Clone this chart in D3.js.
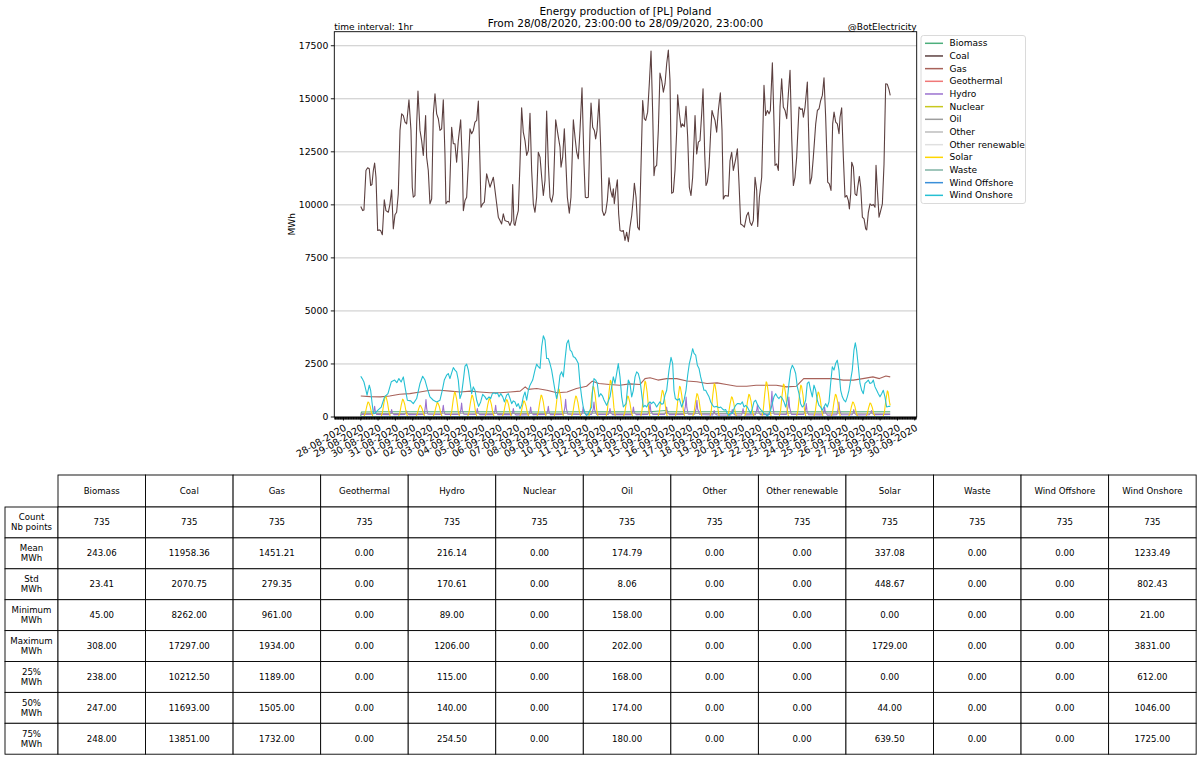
<!DOCTYPE html>
<html><head><meta charset="utf-8">
<script src="https://cdnjs.cloudflare.com/ajax/libs/d3/7.8.5/d3.min.js"></script>
<style>body{margin:0;background:#fff;} svg{display:block;font-family:"DejaVu Sans",sans-serif;}</style>
</head><body><svg id="c" width="1200" height="759"></svg>
<script>
// ---------------- DATA ----------------
const seriesNames = ["Biomass","Coal","Gas","Geothermal","Hydro","Nuclear","Oil","Other","Other renewable","Solar","Waste","Wind Offshore","Wind Onshore"];
const seriesColors = ["#4daf7c","#5c4040","#a8625a","#f07878","#9b72cf","#c8c81e","#9e9e9e","#bdbdbd","#e0e0e0","#ffd600","#80b3a5","#3a8fd9","#26c0d3"];

// [hours since 29-08-2020 00:00, MWh]
const coal = [[0,9920],[2.6,9730],[4.4,9760],[7.2,11620],[9.5,11750],[11.8,11700],[13.7,10910],[15.5,10960],[17.4,11620],[19.2,11970],[21.1,11300],[23.4,8790],[25.7,8820],[27.5,8790],[29.9,8590],[32.6,10240],[34.9,9730],[38.2,9650],[40.5,10050],[42.8,10710],[45.1,8870],[47.4,9530],[49.7,9650],[52.0,10520],[54.4,13510],[56.7,14290],[59.0,14210],[61.3,13900],[63.6,13820],[66.8,14950],[69.6,13510],[71.4,10830],[72.8,10360],[75.1,10440],[77.5,13820],[79.3,15360],[82.1,13510],[84.4,13030],[86.7,12330],[89.9,14210],[91.3,12250],[93.6,11620],[95.9,10050],[98.3,10280],[100.6,14290],[102.9,15240],[105.2,14290],[107.5,14060],[109.8,13510],[112.1,13580],[114.4,14950],[116.7,12400],[118.1,10050],[120.4,10170],[122.7,10130],[126.0,13660],[128.3,12880],[130.6,12880],[132.9,12010],[135.2,13030],[138.5,14010],[140.8,11930],[142.2,9730],[144.5,10200],[146.8,10360],[149.1,11930],[151.4,13580],[153.7,13350],[156.0,13510],[158.3,13900],[160.7,13980],[163.0,14890],[165.3,11930],[166.7,9890],[169.0,10050],[171.3,10130],[174.5,11460],[176.8,11150],[179.1,10830],[183.8,11300],[186.1,10680],[188.4,10050],[190.7,9420],[193.0,9260],[195.3,9100],[197.6,9580],[199.9,9260],[202.2,9230],[204.5,9210],[206.9,9030],[209.2,9260],[210.6,10960],[212.4,9100],[213.8,9030],[216.1,9420],[218.4,9730],[220.7,11930],[223.0,14570],[225.3,13430],[227.7,13030],[230.0,12330],[232.3,12560],[234.6,14320],[236.9,11620],[239.2,10050],[241.5,9650],[243.8,10360],[246.1,12480],[248.5,12250],[250.8,11300],[253.1,10440],[255.4,11150],[257.7,14420],[260.0,11930],[262.3,10360],[264.6,10130],[266.9,10520],[270.2,14010],[273.9,13190],[276.2,12720],[277.6,11780],[279.9,12250],[282.2,13580],[284.0,12250],[286.4,10360],[289.1,9610],[291.4,10360],[294.7,14010],[297.0,13190],[299.3,12480],[301.6,12170],[303.9,13510],[306.7,15520],[309.5,11930],[311.3,10360],[313.2,10330],[315.5,10360],[317.8,13510],[319.2,14800],[321.5,13660],[323.8,13510],[325.6,13110],[327.5,13510],[330.3,14970],[332.6,12720],[334.9,9730],[337.2,9500],[339.5,9650],[341.8,10200],[344.1,11270],[346.4,10680],[348.7,10360],[350.1,10760],[351.5,10050],[353.8,10760],[355.7,11180],[357.5,9580],[359.4,8790],[361.7,8760],[364.0,8790],[366.3,8320],[368.6,8710],[370.9,8262],[373.2,8950],[375.6,9500],[377.9,10360],[379.3,11020],[381.6,10360],[383.9,8950],[386.2,8820],[388.0,11150],[390.8,14920],[393.1,14060],[395.0,13980],[397.7,14370],[400.0,15710],[402.4,17250],[404.7,14290],[406.5,11380],[407.9,11780],[410.2,11860],[412.5,13510],[414.8,16210],[417.2,15860],[419.5,15310],[421.8,15710],[424.1,16650],[426.4,17297],[428.7,15860],[431.0,10550],[433.3,10600],[435.6,11620],[438.0,13510],[439.3,15190],[441.6,14320],[444.0,13660],[445.8,13820],[448.6,13690],[450.9,14640],[453.2,13190],[455.5,10830],[457.8,10440],[460.1,11300],[463.4,14210],[465.7,12400],[468.0,12960],[470.3,13030],[472.6,14290],[474.5,15470],[476.8,12400],[478.6,10910],[480.5,11070],[482.8,11780],[485.1,13430],[486.9,14450],[488.8,14210],[491.1,13980],[493.4,13430],[495.7,14450],[498.5,15280],[500.8,13510],[502.6,10280],[505.0,10440],[509.6,10410],[511.9,12090],[514.2,12480],[516.5,11620],[519.8,12170],[522.1,12640],[524.4,10990],[526.7,9100],[529.5,9030],[531.8,8950],[535.0,9500],[537.3,9650],[539.6,9180],[541.9,9030],[544.2,9260],[546.6,11300],[548.9,10680],[550.3,8980],[552.6,10360],[555.8,11300],[559.0,15630],[561.3,14210],[563.7,14450],[566.0,14290],[567.8,14450],[570.6,16700],[572.9,13820],[574.3,11860],[576.6,11930],[578.9,11620],[581.2,14610],[583.5,15940],[585.8,14610],[588.2,14450],[590.5,14060],[592.8,15240],[595.1,16340],[597.4,13190],[599.7,10910],[602.0,11300],[604.3,12250],[607.6,14610],[609.9,14500],[612.2,14530],[613.6,14130],[615.9,14610],[619.1,15790],[621.4,12720],[622.8,10990],[625.1,11300],[627.4,12250],[630.7,13820],[633.0,14450],[635.3,14530],[637.6,14920],[639.9,15160],[642.2,15990],[644.5,14130],[647.3,11070],[649.6,10990],[651.9,10680],[654.2,13820],[656.1,14370],[658.4,13900],[660.7,13820],[663.0,13350],[664.4,14130],[666.7,14570],[669.0,12250],[671.3,10360],[673.7,10440],[676.0,10200],[677.4,9810],[679.2,10520],[680.6,12010],[682.9,11780],[685.2,10520],[687.5,10440],[688.9,10830],[691.2,11340],[693.1,10830],[695.4,9420],[697.7,9340],[700.0,8870],[701.4,8820],[703.7,9650],[706.0,10050],[708.3,9970],[710.6,10020],[712.9,9890],[714.3,11860],[716.2,10680],[718.5,9420],[720.8,9730],[723.1,10050],[725.4,11930],[727.7,15710],[730.0,15680],[732.4,15420],[734,15160]];

const gas = [[0,990],[13,961],[27,950],[40,990],[54,1070],[68,1100],[82,1180],[96,1260],[110,1260],[124,1220],[138,1180],[152,1220],[165,1180],[179,1140],[193,1140],[207,1180],[221,1220],[228,1420],[232,1300],[244,1340],[258,1260],[272,1140],[286,1180],[299,1340],[313,1450],[321,1690],[330,1580],[345,1530],[359,1500],[373,1560],[387,1530],[394,1810],[401,1850],[412,1740],[424,1810],[438,1810],[452,1700],[466,1660],[480,1580],[494,1610],[507,1530],[521,1450],[535,1450],[548,1500],[562,1500],[576,1500],[590,1420],[604,1450],[614,1810],[627,1810],[641,1810],[655,1810],[669,1740],[683,1740],[696,1810],[710,1890],[719,1810],[728,1934],[734,1890]];

const windOnshore = [[0,1920],[2,1810],[4.4,1650],[7.2,1260],[8.7,1030],[11.8,1500],[13.7,1260],[15.5,710],[17.4,190],[19.2,160],[23.8,320],[28.4,470],[33,950],[37.7,1100],[42.3,1660],[47,1740],[50,1620],[52.8,1810],[56,1650],[59,1890],[61.3,1420],[64.6,790],[69.2,760],[72.8,630],[77.5,870],[82.1,1580],[85.8,1920],[89,1740],[92.3,1340],[95.9,950],[100.6,790],[105.2,710],[109.8,790],[113,1260],[115.8,1740],[119,1970],[121.3,2050],[123.6,1810],[126,2080],[128.3,2330],[130.6,2210],[132.9,2130],[135.2,1740],[137.5,870],[139.8,1100],[142.2,1740],[144.5,2400],[146.8,2490],[149.1,2210],[151.4,1660],[153.7,1100],[156,1420],[158.3,1260],[160.7,790],[163.4,500],[166.2,710],[169,1070],[172.2,950],[174.5,820],[177.8,950],[180.1,870],[182.4,1100],[184.7,1140],[187,1100],[189.4,1140],[191.7,950],[194,1100],[196.8,950],[199.1,710],[202.2,1030],[204.5,1100],[206.9,870],[209.2,630],[211.5,760],[213.8,710],[216.1,500],[218.4,630],[220.7,390],[223,550],[225.3,950],[227.7,1180],[230,790],[232.3,1260],[234.6,1500],[238.3,1740],[241.5,2210],[243.8,2490],[246.1,2370],[248.5,2290],[250.8,3310],[253.1,3831],[255.4,3630],[257.7,2760],[260,2760],[262.3,2520],[264.6,2210],[266.9,1740],[269.2,1260],[271.5,870],[273.8,1260],[276.2,1970],[278.5,2130],[280.8,1890],[283.1,2680],[285.6,3470],[287.9,3630],[290.2,3150],[292.4,3080],[294.7,2840],[297,2800],[299.3,2680],[301.6,2520],[303.9,1580],[306.2,950],[308.4,470],[310.7,190],[313.2,80],[315.5,160],[317.8,320],[320.1,470],[321,1100],[323.3,1810],[325.6,1740],[327.9,1580],[330.2,950],[332.6,1100],[335,1000],[337.2,800],[340.9,550],[345.5,950],[350.1,1890],[352.4,1580],[357,2520],[359.4,1890],[361.7,950],[364,470],[367.7,630],[370.9,1740],[373.2,1580],[375.6,950],[377.9,1260],[380.2,1890],[382.5,2130],[384.8,2050],[387.1,1740],[389.4,1100],[391.7,470],[394,550],[396.3,470],[398.6,630],[400.9,710],[403.2,630],[405.5,710],[407.8,630],[410.2,470],[412.5,600],[414.8,710],[417.1,600],[419.4,630],[421.7,1030],[424.1,1260],[427.3,2210],[430.1,2810],[432.4,2520],[434.2,1260],[436.1,870],[438.9,790],[441.6,870],[444.9,470],[448.1,790],[450.9,1260],[453.2,1970],[455.5,2520],[457.8,2840],[460.1,3220],[462,3000],[464.3,2920],[466.6,2440],[468.9,2290],[471.2,1890],[473.5,1580],[475.8,1260],[478.1,1260],[480.5,1100],[482.8,950],[485.1,710],[487.8,550],[490.1,470],[493.4,500],[496.6,440],[498.9,470],[501.2,390],[503.5,320],[505.8,350],[508.2,160],[510.5,80],[512.8,190],[515.1,160],[517.4,390],[519.7,550],[522,630],[524.3,630],[526.6,600],[529,710],[531.3,470],[533.6,550],[535.9,470],[538.2,320],[540.5,160],[542.8,390],[545.1,710],[547.4,790],[549.7,600],[552,470],[554.4,350],[556.7,280],[559,160],[561.3,130],[563.6,21],[565.9,160],[568.2,320],[570.5,630],[572.8,950],[575.2,1100],[577.5,950],[579.8,870],[582.1,980],[584.4,870],[586.7,710],[589,470],[591.3,790],[593.6,1580],[595.9,2210],[598.3,2440],[600.6,2290],[602.9,2050],[605.2,1420],[607.5,1100],[609.8,630],[612.1,470],[614.4,550],[616.7,790],[619,1580],[621.3,1660],[623.7,1260],[626,950],[628.3,1500],[630.6,1260],[632.9,790],[635.2,550],[637.5,470],[639.8,320],[642.1,470],[644.5,630],[646.8,470],[649.1,710],[651.4,1580],[653.7,2370],[656,2210],[658.3,2520],[660.6,2680],[662.9,2210],[665.3,1260],[667.6,950],[669.9,790],[672.2,710],[674.5,950],[676.8,1260],[679.1,1740],[681.4,2210],[683.7,3150],[685.6,3500],[687.4,3150],[689.8,2370],[692.1,1580],[694.4,1260],[696.7,1100],[699,1580],[701.3,1660],[703.6,1740],[705.9,1580],[708.3,1610],[710.6,1740],[712.9,1420],[715.2,1260],[717.5,1100],[719.8,950],[722.1,1100],[724.4,1260],[726.7,950],[729,470],[731.4,500],[734,500]];

const hydro = [[0,120],[17,130],[18.2,300],[19.2,505],[20.2,250],[22,120],[40,110],[41.8,200],[42.8,347],[43.8,180],[46,110],[61,120],[62.6,170],[63.6,284],[64.6,160],[67,110],[88,120],[89.4,450],[90.4,820],[91.4,380],[93,130],[112,120],[113.4,300],[114.4,552],[115.4,260],[117,120],[137,125],[138.8,350],[139.8,662],[140.8,300],[143,130],[159,120],[160.6,220],[161.6,394],[162.6,190],[165,110],[184,110],[186,300],[187,552],[188,250],[190,110],[209,110],[210.5,220],[211.5,394],[212.5,180],[215,100],[233,110],[234.5,250],[235.5,473],[236.5,220],[239,110],[257,115],[259,280],[260,505],[261,240],[263,110],[281,120],[283,450],[284,836],[285,400],[287,130],[306,120],[307.4,250],[308.4,473],[309.4,230],[312,110],[320,120],[322.3,380],[323.3,710],[324.3,330],[327,120],[343,115],[344.5,220],[345.5,394],[346.5,190],[349,110],[375,110],[377,260],[378,470],[379,220],[382,110],[398,120],[400,340],[401,631],[402,300],[405,120],[421,115],[423,250],[424,473],[425,230],[428,110],[448,120],[450,500],[451,946],[452,450],[454,130],[463,130],[465,420],[466,788],[467,380],[470,120],[488,100],[489,180],[490,300],[491,150],[494,95],[513,100],[514,200],[515,350],[516,170],[519,95],[528,100],[529,220],[530,400],[531,200],[534,100],[547,110],[549,330],[550,600],[551,280],[554,110],[567,120],[569,650],[570,1206],[571,560],[573,130],[590,120],[592.5,500],[593.5,946],[594.5,450],[597,120],[614,115],[616.6,340],[617.6,631],[618.6,300],[621,110],[640,100],[642,250],[643,473],[644,220],[647,89],[660,110],[661.8,380],[662.8,710],[663.8,330],[666,110],[681,105],[682.5,190],[683.5,347],[684.5,170],[687,100],[705,110],[707,200],[708,300],[709,160],[712,110],[734,120]];

const biomass = [[0,45],[1,238],[30,247],[60,248],[100,244],[150,247],[200,248],[250,238],[300,247],[350,248],[400,247],[424,308],[426,250],[450,248],[500,246],[550,247],[600,248],[650,250],[700,247],[734,248]];
const oil = [[0,170],[50,168],[100,175],[150,180],[200,172],[250,168],[300,176],[350,182],[400,178],[450,170],[500,168],[550,174],[600,180],[650,185],[700,178],[734,176]];
const zeroSeries = [[0,0],[734,0]];

// solar: value at given hours of each day (day 0 = 29-08-2020)
const solarDayHours = [4,6,8,10,11,13,15,17];
const solarDays = [
 [0,140,460,710,690,500,180,0],[0,200,640,990,960,690,250,0],[0,170,550,840,810,590,210,0],[0,110,360,550,530,390,140,0],
 [0,140,440,680,660,480,170,0],[0,240,770,1180,1140,830,300,0],[0,210,670,1030,1000,720,260,0],[0,170,570,870,840,610,220,0],
 [0,160,530,820,800,570,210,0],[0,150,490,760,740,530,190,0],[0,210,670,1030,1000,720,260,0],[0,270,870,1340,1300,940,340,0],
 [0,200,640,990,960,690,250,0],[0,290,940,1450,1410,1020,360,0],[0,350,1120,1729,1680,1210,430,0],[0,200,640,990,960,690,250,0],
 [0,340,1100,1690,1640,1180,420,0],[0,250,820,1260,1220,880,320,0],[0,290,940,1450,1410,1020,360,0],[0,220,720,1100,1070,770,280,0],
 [0,320,1030,1580,1530,1110,400,0],[0,190,620,950,920,670,240,0],[0,210,700,1070,1040,750,270,0],[0,330,1080,1660,1610,1160,420,0],
 [0,310,1010,1550,1500,1090,390,0],[0,300,980,1500,1460,1050,380,0],[0,240,770,1180,1140,830,300,0],[0,210,700,1070,1040,750,270,0],
 [0,140,460,710,690,500,180,0],[0,130,430,660,640,460,170,0],[0,250,800,1230,1190,700]
];
const solarTail = [[734,550]];

const yTickValues = [0,2500,5000,7500,10000,12500,15000,17500];

const tableRowLabels = [["Count","Nb points"],["Mean","MWh"],["Std","MWh"],["Minimum","MWh"],["Maximum","MWh"],["25%","MWh"],["50%","MWh"],["75%","MWh"]];
const tableValues = [
 ["735","735","735","735","735","735","735","735","735","735","735","735","735"],
 ["243.06","11958.36","1451.21","0.00","216.14","0.00","174.79","0.00","0.00","337.08","0.00","0.00","1233.49"],
 ["23.41","2070.75","279.35","0.00","170.61","0.00","8.06","0.00","0.00","448.67","0.00","0.00","802.43"],
 ["45.00","8262.00","961.00","0.00","89.00","0.00","158.00","0.00","0.00","0.00","0.00","0.00","21.00"],
 ["308.00","17297.00","1934.00","0.00","1206.00","0.00","202.00","0.00","0.00","1729.00","0.00","0.00","3831.00"],
 ["238.00","10212.50","1189.00","0.00","115.00","0.00","168.00","0.00","0.00","0.00","0.00","0.00","612.00"],
 ["247.00","11693.00","1505.00","0.00","140.00","0.00","174.00","0.00","0.00","44.00","0.00","0.00","1046.00"],
 ["248.00","13851.00","1732.00","0.00","254.50","0.00","180.00","0.00","0.00","639.50","0.00","0.00","1725.00"]
];

// ---------------- BUILD ----------------
const solar = [];
solarDays.forEach((vals,d)=>vals.forEach((v,i)=>solar.push([d*24+solarDayHours[i], v])));
solarTail.forEach(p=>solar.push(p));

const seriesData = [biomass, coal, gas, zeroSeries, hydro, zeroSeries, oil, zeroSeries, zeroSeries, solar, zeroSeries, zeroSeries, windOnshore];

const svg = d3.select("#c");
const P = {l:334.3, r:916.7, t:31.7, b:417};
const t0 = Date.UTC(2020,7,29,0);
const toDate = h => new Date(t0 + h*3600e3);
const allH = seriesData.flat().map(d=>d[0]);
const hMin = d3.min(allH), hMax = d3.max(allH), pad = (hMax-hMin)*0.05;
const x = d3.scaleUtc().domain([toDate(hMin-pad), toDate(hMax+pad)]).range([P.l, P.r]);
const yMax = d3.max(seriesData.flat(), d=>d[1]) * 1.05;
const y = d3.scaleLinear().domain([0, yMax]).range([P.b, P.t]);

// titles
svg.append("text").attr("x",(P.l+P.r)/2).attr("y",15).attr("text-anchor","middle").attr("font-size",10.5).text("Energy production of [PL] Poland");
svg.append("text").attr("x",(P.l+P.r)/2).attr("y",27).attr("text-anchor","middle").attr("font-size",10.5).text("From 28/08/2020, 23:00:00 to 28/09/2020, 23:00:00");
svg.append("text").attr("x",P.l).attr("y",29.5).attr("font-size",9).text("time interval: 1hr");
svg.append("text").attr("x",P.r).attr("y",29.5).attr("text-anchor","end").attr("font-size",9).text("@BotElectricity");

// grid
svg.append("g").selectAll("line").data(yTickValues).join("line")
  .attr("x1",P.l).attr("x2",P.r).attr("y1",d=>y(d)).attr("y2",d=>y(d))
  .attr("stroke","#c8c8c8").attr("stroke-width",1);

// lines
svg.append("clipPath").attr("id","clip").append("rect").attr("x",P.l).attr("y",P.t).attr("width",P.r-P.l).attr("height",P.b-P.t);
const line = d3.line().x(d=>x(toDate(d[0]))).y(d=>y(d[1]));
const gL = svg.append("g").attr("clip-path","url(#clip)");
seriesData.forEach((data,i)=>{
  gL.append("path").attr("d",line(data)).attr("fill","none").attr("stroke",seriesColors[i]).attr("stroke-width",1.1).attr("stroke-linejoin","round");
});

// spines
svg.append("rect").attr("x",P.l).attr("y",P.t).attr("width",P.r-P.l).attr("height",P.b-P.t).attr("fill","none").attr("stroke","#000").attr("stroke-width",0.9);

// y axis
const yAxis = svg.append("g");
yTickValues.forEach(v=>{
  yAxis.append("line").attr("x1",P.l-3.5).attr("x2",P.l).attr("y1",y(v)).attr("y2",y(v)).attr("stroke","#000").attr("stroke-width",0.9);
  yAxis.append("text").attr("x",P.l-6).attr("y",y(v)).attr("dy","0.35em").attr("text-anchor","end").attr("font-size",9.3).text(v);
});
svg.append("text").attr("transform",`translate(295,${(P.t+P.b)/2}) rotate(-90)`).attr("text-anchor","middle").attr("font-size",9).text("MWh");

// x axis
const days = d3.utcDay.range(x.domain()[0], x.domain()[1]);
const hours = d3.utcHour.range(x.domain()[0], x.domain()[1]);
const gx = svg.append("g");
gx.selectAll("line.mi").data(hours).join("line").attr("x1",d=>x(d)).attr("x2",d=>x(d)).attr("y1",P.b).attr("y2",P.b+2.5).attr("stroke","#000").attr("stroke-width",1);
gx.selectAll("line.ma").data(days).join("line").attr("x1",d=>x(d)).attr("x2",d=>x(d)).attr("y1",P.b).attr("y2",P.b+3.5).attr("stroke","#000").attr("stroke-width",0.9);
const fmt = d3.utcFormat("%d-%m-%Y");
gx.selectAll("text").data(days).join("text")
  .attr("transform",d=>`translate(${x(d)},${P.b+6.5}) rotate(-30)`)
  .attr("text-anchor","end").attr("dominant-baseline","hanging").attr("font-size",9.6).text(d=>fmt(d));

// legend
const lg = svg.append("g");
lg.append("rect").attr("x",921).attr("y",35.5).attr("width",104.5).attr("height",168).attr("rx",2.5)
  .attr("fill","#fff").attr("fill-opacity",0.8).attr("stroke","#d6d6d6").attr("stroke-width",0.9);
seriesNames.forEach((n,i)=>{
  const yy = 43.3 + i*12.67;
  lg.append("line").attr("x1",925).attr("x2",943).attr("y1",yy).attr("y2",yy).attr("stroke",seriesColors[i]).attr("stroke-width",1.5);
  lg.append("text").attr("x",949.5).attr("y",yy).attr("dy","0.35em").attr("font-size",9).text(n);
});

// table
const T = {x0:5, xh:58, colW:87.55, top:475, headH:32, rowH:30.9};
const tg = svg.append("g").attr("font-size",8.6);
seriesNames.forEach((n,j)=>{
  const cx = T.xh + j*T.colW;
  tg.append("rect").attr("x",cx).attr("y",T.top).attr("width",T.colW).attr("height",T.headH).attr("fill","#fff").attr("stroke","#000").attr("stroke-width",0.9);
  tg.append("text").attr("x",cx+T.colW/2).attr("y",T.top+T.headH/2).attr("dy","0.35em").attr("text-anchor","middle").text(n);
});
tableRowLabels.forEach((lab,r)=>{
  const ry = T.top + T.headH + r*T.rowH;
  tg.append("rect").attr("x",T.x0).attr("y",ry).attr("width",T.xh-T.x0).attr("height",T.rowH).attr("fill","#fff").attr("stroke","#000").attr("stroke-width",0.9);
  tg.append("text").attr("x",(T.x0+T.xh)/2).attr("y",ry+T.rowH/2-5).attr("dy","0.35em").attr("text-anchor","middle").text(lab[0]);
  tg.append("text").attr("x",(T.x0+T.xh)/2).attr("y",ry+T.rowH/2+5).attr("dy","0.35em").attr("text-anchor","middle").text(lab[1]);
  tableValues[r].forEach((v,j)=>{
    const cx = T.xh + j*T.colW;
    tg.append("rect").attr("x",cx).attr("y",ry).attr("width",T.colW).attr("height",T.rowH).attr("fill","#fff").attr("stroke","#000").attr("stroke-width",0.9);
    tg.append("text").attr("x",cx+T.colW/2).attr("y",ry+T.rowH/2).attr("dy","0.35em").attr("text-anchor","middle").text(v);
  });
});
</script></body></html>
